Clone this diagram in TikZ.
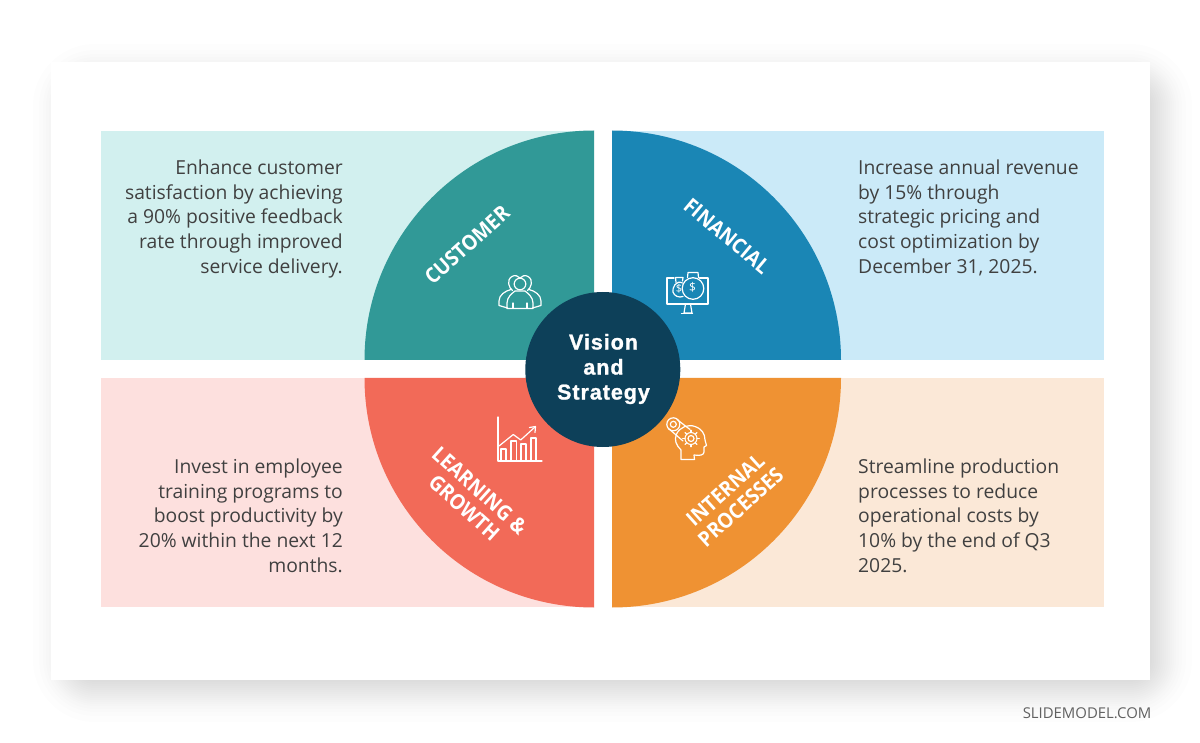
\documentclass[tikz,border=0pt]{standalone}
\usepackage{fontspec}
\usetikzlibrary{calc}
\setmainfont{Open Sans}
\newfontfamily\labelfont{Open Sans}[FakeStretch=0.92]
\newfontfamily\visionfont{Liberation Sans}[BoldFont={Liberation Sans Bold},BoldFeatures={FakeBold=1.2},LetterSpace=4.5]
\definecolor{teal}{HTML}{319997}
\definecolor{teallight}{HTML}{D2F0EF}
\definecolor{bluedark}{HTML}{1A86B5}
\definecolor{bluelight}{HTML}{CBEAF8}
\definecolor{coral}{HTML}{F26A58}
\definecolor{corallight}{HTML}{FDE0DE}
\definecolor{orangedark}{HTML}{EF9233}
\definecolor{orangelight}{HTML}{FBE8D7}
\definecolor{navy}{HTML}{0D4059}
\definecolor{bodytext}{HTML}{404040}
\tikzset{
  x=1pt,y=-1pt,
  bodyR/.style={text=bodytext,align=right,anchor=north east,inner sep=0pt,font=\fontsize{19.3}{24.8}\selectfont},
  bodyL/.style={text=bodytext,align=left,anchor=north west,inner sep=0pt,font=\fontsize{19.3}{24.8}\selectfont},
  quadlabel/.style={text=white,align=center,inner sep=0pt,font=\labelfont\fontsize{21}{23}\selectfont\bfseries},
  iconline/.style={draw=white,line width=1.2pt,line join=round,line cap=round},
}
\begin{document}
\begin{tikzpicture}
\useasboundingbox (0,0) rectangle (1200,743);
\fill[white] (0,0) rectangle (1200,743);
% soft shadow
\foreach \d in {-30,-24,-20,-17,-14,-12,-10,-8,-6,-4,-2,0,2,4,6,8,10,12,14,17,20,24,30}{
  \pgfmathsetmacro{\rr}{max(1,32-\d)}
  \fill[black,opacity=0.009,rounded corners=\rr pt]
    (63+\d,74+\d) rectangle (1162-\d,692-\d);
}
\fill[white] (51,62) rectangle (1150,680);
% panels
\fill[teallight] (101,131) rectangle (594,360);
\fill[bluelight] (612,131) rectangle (1104,360);
\fill[corallight] (101,378) rectangle (594,607);
\fill[orangelight] (612,378) rectangle (1104,607);
% sectors
\fill[teal] (594,360) -- (364.5,360) .. controls (364.5,233.3) and (467.3,130.5) .. (594,130.5) -- cycle;
\fill[bluedark] (612,360) -- (841,360) .. controls (841,233.3) and (738.7,130.5) .. (612,130.5) -- cycle;
\fill[coral] (594,378) -- (364.5,378) .. controls (364.5,504.7) and (467.3,607.5) .. (594,607.5) -- cycle;
\fill[orangedark] (612,378) -- (841,378) .. controls (841,504.7) and (738.7,607.5) .. (612,607.5) -- cycle;
% centre
\node[circle,fill=navy,minimum size=155pt,inner sep=0pt] (hub) at (602.8,369.5) {};
\node[text=white,align=center,inner sep=0pt,font=\visionfont\bfseries\fontsize{21.5}{25}\selectfont] (vision) at (603.5,369) {Vision\\and\\Strategy};
% quadrant labels
\node[quadlabel,rotate=42] (customer) at (467,245) {CUSTOMER};
\node[quadlabel,rotate=-40] (financial) at (727,236) {FINANCIAL};
\node[quadlabel,rotate=-42] (learning) at (472,499) {LEARNING \&\\GROWTH};
\node[quadlabel,rotate=42] (internal) at (733,498.5) {INTERNAL\\PROCESSES};
% body text
\node[bodyR] (t1) at (343,159.5) {Enhance customer\\satisfaction by achieving\\a 90\% positive feedback\\rate through improved\\service delivery.};
\node[bodyL] (t2) at (858,159.5) {Increase annual revenue\\by 15\% through\\strategic pricing and\\cost optimization by\\December 31, 2025.};
\node[bodyR] (t3) at (343,458.5) {Invest in employee\\training programs to\\boost productivity by\\20\% within the next 12\\months.};
\node[bodyL] (t4) at (858,458.5) {Streamline production\\processes to reduce\\operational costs by\\10\% by the end of Q3\\2025.};
\node[anchor=east,inner sep=0pt,text=black!62,font=\fontsize{14.9}{16}\selectfont] (brand) at (1151.5,713) {SLIDEMODEL.COM};
% people icon
\begin{scope}[iconline]
  \draw (512.5,290.5) .. controls (509,288) and (506,280) .. (512,276.5) .. controls (515,274.5) and (518,276) .. (520,278);
  \draw (527.5,290.5) .. controls (531,288) and (534,280) .. (528,276.5) .. controls (525,274.5) and (522,276) .. (520,278);
  \draw (520,284) circle (5.8);
  \draw (507.5,308) -- (499,305.5) -- (499,301) .. controls (499,295) and (505,291) .. (511,289.5);
  \draw (532.5,308) -- (541,305.5) -- (541,301) .. controls (541,295) and (535,291) .. (529,289.5);
  \draw (507,308.5) -- (507,303) .. controls (507,297) and (512,293.5) .. (515,291) -- (525,291) .. controls (528,293.5) and (533,297) .. (533,303) -- (533,308.5) -- cycle;
  \draw (513,308) -- (513,303);
  \draw (527,308) -- (527,303);
\end{scope}
% money icon
\begin{scope}[iconline]
  \draw (674,278) -- (667,278) -- (667,304) -- (708,304) -- (708,278) -- (699.5,278);
  \draw (685.5,304) -- (684,313) -- (692,313) -- (690.5,304);
  \draw (681.5,313.5) -- (692.5,313.5);
  \draw (693,288.5) circle (10.8);
  \draw (687.5,277.5) -- (688,272.5) -- (698,272.5) -- (698.5,277.5);
  \draw (682.5,283) .. controls (676,279.5) and (672,288) .. (673,292) .. controls (674,296) and (679,298) .. (683,296.5);
  \draw (676,282.5) -- (675.5,277.5) -- (683,277.5) -- (682.5,281);
\end{scope}
\node[text=white,inner sep=0pt,font=\fontsize{12}{12}\selectfont] (usd1) at (692.5,287.5) {\$};
\node[text=white,inner sep=0pt,font=\fontsize{11}{11}\selectfont] (usd2) at (679,288.5) {\$};
% chart icon
\begin{scope}[iconline]
  \draw (498,417) -- (498,461) -- (542,461);
  \draw (501,461) -- (501,449) -- (506,449) -- (506,461);
  \draw (511,461) -- (511,441) -- (516.5,441) -- (516.5,461);
  \draw (521,461) -- (521,444) -- (526,444) -- (526,461);
  \draw (531,461) -- (531,438) -- (536,438) -- (536,461);
  \draw (499,446) -- (513.3,434.5) -- (520.7,440) -- (535,427);
  \draw (529.5,427.5) -- (535.5,426.5) -- (535,432.5);
\end{scope}
% head icon
\begin{scope}[iconline]
  \draw (681,459.5) -- (681,450) .. controls (676,445) and (674,440) .. (676.5,434)
        .. controls (680,427) and (688,424) .. (695,426.5) .. controls (702,429) and (705,434) .. (705,440)
        -- (706.5,445.5) -- (704,447) -- (704,452) .. controls (704,455) and (700,456) .. (694,455)
        -- (694.5,459.5) -- cycle;
  \draw (691,438.5) circle (3);
  \draw[line width=1pt] (691,438.5) circle (6);
  \foreach \a in {0,45,...,315}{
    \draw[line width=1.4pt] ($(691,438.5)+(\a:6)$) -- ($(691,438.5)+(\a:8.2)$);
  }
  \draw (673.3,424.3) circle (6.5);
  \draw (673.3,424.3) circle (3);
  \draw (677,419.5) -- (690,429.5);
  \draw (668.5,428.5) -- (683,441);
\end{scope}
\end{tikzpicture}
\end{document}
